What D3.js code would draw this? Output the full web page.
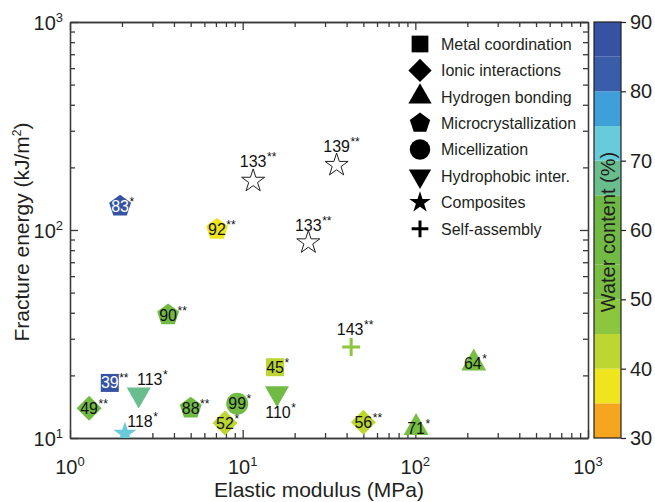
<!DOCTYPE html>
<html>
<head>
<meta charset="utf-8">
<script src="https://cdn.jsdelivr.net/npm/d3@7"></script>
<style>
    body { margin: 0; background: #fff; }
    text { font-family: "Liberation Sans", Arial, sans-serif; fill: #231f20; }
</style>
</head>
<body>
<svg id="chart" width="655" height="502"></svg>
<script>
// Values (one entry per hydrogel, in drawing order)
var refs     = ["83", "92", "133", "139", "133", "90", "39", "113", "118", "49", "88", "99", "52", "45", "110", "143", "64", "56", "71"];
var stars    = ["*", "**", "**", "**", "**", "**", "**", "*", "*", "**", "**", "*", "*", "*", "*", "**", "*", "**", "*"];
var kinds    = ["micro", "micro", "composite", "composite", "composite", "micro", "metal", "hydrophobic", "composite", "ionic", "micro", "micelle", "ionic", "metal", "hydrophobic", "self", "hbond", "ionic", "hbond"];
var modulus  = [1.95, 7.1, 11.5, 35, 24, 3.7, 1.7, 2.5, 2.08, 1.29, 5.0, 9.3, 7.9, 15.4, 15.8, 42.5, 218, 50, 101];   // MPa
var energy   = [130, 100.6, 172, 205, 87, 39, 18.4, 16.2, 10.5, 13.9, 13.9, 14.6, 11.8, 21.9, 16.4, 27.4, 22.9, 11.9, 11.2]; // kJ/m2
var water    = [87, 38, null, null, null, 55, 86, 68, 72, 58, 57, 56, 42, 42, 57, 47, 53, 43, 51];              // %

var legendKinds  = ["metal", "ionic", "hbond", "micro", "micelle", "hydrophobic", "composite", "self"];
var legendLabels = ["Metal coordination", "Ionic interactions", "Hydrogen bonding", "Microcrystallization",
                    "Micellization", "Hydrophobic inter.", "Composites", "Self-assembly"];

var xTicks     = [1, 10, 100, 1000];
var yTicks     = [10, 100, 1000];
var waterTicks = [30, 40, 50, 60, 70, 80, 90];
var waterBands = [30, 35, 40, 45, 50, 55, 60, 65, 70, 75, 80, 85, 90];
var bandColors = ["#f6a51e", "#efe51e", "#bdd631", "#8cc63f", "#78be43", "#71bb45", "#6db944",
                  "#68be8c", "#67cbd9", "#3f9fd8", "#3a5daa", "#3552a3"];

// Layout
var plot = {left: 70, right: 588, top: 22, bottom: 438};
var bar  = {left: 594, right: 621};
var ink  = "#231f20";

var svg = d3.select("#chart");

var x = d3.scaleLog().domain([1, 1000]).range([plot.left, plot.right]);
var y = d3.scaleLog().domain([10, 1000]).range([plot.bottom, plot.top]);
var color = d3.scaleThreshold().domain(waterBands.slice(1, -1)).range(bandColors);
var yc = d3.scaleLinear().domain([30, 90]).range([plot.bottom, plot.top]);

// minor ticks 2..9 in each decade
function minors(domain) {
    var out = [];
    for (var d = domain[0]; d < domain[1]; d *= 10) {
        for (var k = 2; k <= 9; k++) out.push(d * k);
    }
    return out;
}

// marker path for each mechanism, s = scale factor
function shapePath(kind, s) {
    var p = d3.path(), i, a, r;
    switch (kind) {
        case "metal":
            r = 9 * s;
            p.rect(-r, -r, 2 * r, 2 * r);
            break;
        case "ionic":
            r = 12.5 * s;
            p.moveTo(0, -r); p.lineTo(r, 0); p.lineTo(0, r); p.lineTo(-r, 0); p.closePath();
            break;
        case "hbond":
            p.moveTo(0, -14.7 * s); p.lineTo(12.5 * s, 7.3 * s); p.lineTo(-12.5 * s, 7.3 * s); p.closePath();
            break;
        case "hydrophobic":
            p.moveTo(0, 14 * s); p.lineTo(12 * s, -7 * s); p.lineTo(-12 * s, -7 * s); p.closePath();
            break;
        case "micro":
            r = 11.5 * s;
            for (i = 0; i < 5; i++) {
                a = -Math.PI / 2 + i * 2 * Math.PI / 5;
                if (i === 0) p.moveTo(r * Math.cos(a), r * Math.sin(a));
                else p.lineTo(r * Math.cos(a), r * Math.sin(a));
            }
            p.closePath();
            break;
        case "micelle":
            r = 11 * s;
            p.arc(0, 0, r, 0, 2 * Math.PI);
            break;
        case "composite":
            return d3.symbol().type(d3.symbolStar).size(165 * s * s)();
        case "self":
            r = 9 * s;
            p.moveTo(-r, 0); p.lineTo(r, 0); p.moveTo(0, -r); p.lineTo(0, r);
            break;
    }
    return p.toString();
}

// ---- colour bar ----
svg.append("g").selectAll("rect")
    .data(bandColors)
    .join("rect")
        .attr("x", bar.left)
        .attr("width", bar.right - bar.left)
        .attr("y", function(c, i) { return yc(waterBands[i + 1]); })
        .attr("height", function(c, i) { return yc(waterBands[i]) - yc(waterBands[i + 1]); })
        .attr("fill", function(c) { return c; });

svg.append("rect")
    .attr("x", bar.left).attr("y", plot.top)
    .attr("width", bar.right - bar.left).attr("height", plot.bottom - plot.top)
    .attr("fill", "none").attr("stroke", ink).attr("stroke-width", 1.2);

var cAxis = svg.append("g")
    .attr("transform", "translate(" + bar.right + ",0)")
    .call(d3.axisRight(yc).tickValues(waterTicks).tickSize(5).tickPadding(4));
cAxis.select(".domain").remove();
cAxis.selectAll("line").attr("stroke", ink).attr("stroke-width", 1.2);
cAxis.selectAll("text").attr("font-size", 20).attr("fill", ink)
    .attr("font-family", "'Liberation Sans', Arial, sans-serif");

svg.append("text")
    .attr("transform", "translate(615," + 232 + ") rotate(-90)")
    .attr("text-anchor", "middle")
    .attr("font-size", 20)
    .text("Water content (%)");

// ---- axes: inward ticks on all four sides ----
function frameAxis(axis, transform, size, values) {
    var g = svg.append("g")
        .attr("transform", transform)
        .call(axis.tickValues(values).tickSizeInner(-size).tickSizeOuter(0).tickFormat(""));
    g.selectAll("line, path").attr("stroke", "#3a3a3a").attr("stroke-width", 1.3);
    return g;
}

var xMinor = minors(x.domain()), yMinor = minors(y.domain());
frameAxis(d3.axisBottom(x), "translate(0," + plot.bottom + ")", 8, xTicks);
frameAxis(d3.axisBottom(x), "translate(0," + plot.bottom + ")", 5, xMinor);
frameAxis(d3.axisTop(x), "translate(0," + plot.top + ")", 8, xTicks);
frameAxis(d3.axisTop(x), "translate(0," + plot.top + ")", 5, xMinor);
frameAxis(d3.axisLeft(y), "translate(" + plot.left + ",0)", 8, yTicks);
frameAxis(d3.axisLeft(y), "translate(" + plot.left + ",0)", 5, yMinor);
frameAxis(d3.axisRight(y), "translate(" + plot.right + ",0)", 8, yTicks);
frameAxis(d3.axisRight(y), "translate(" + plot.right + ",0)", 5, yMinor);

// power-of-ten tick labels
function powerLabel(sel) {
    sel.append("tspan").text("10");
    sel.append("tspan")
        .attr("font-size", 13)
        .attr("dy", -8)
        .text(function(d) { return Math.round(Math.log10(d)); });
}

svg.append("g").selectAll("text")
    .data(xTicks)
    .join("text")
        .attr("x", function(d) { return x(d); })
        .attr("y", 474)
        .attr("text-anchor", "middle")
        .attr("font-size", 20)
        .call(powerLabel);

svg.append("g").selectAll("text")
    .data(yTicks)
    .join("text")
        .attr("x", 63)
        .attr("y", function(d) { return y(d) + 8; })
        .attr("text-anchor", "end")
        .attr("font-size", 20)
        .call(powerLabel);

svg.append("text")
    .attr("x", 319).attr("y", 497)
    .attr("text-anchor", "middle")
    .attr("font-size", 21)
    .text("Elastic modulus (MPa)");

var yTitle = svg.append("text")
    .attr("transform", "translate(29,232) rotate(-90)")
    .attr("text-anchor", "middle")
    .attr("font-size", 21);
yTitle.append("tspan").text("Fracture energy (kJ/m");
yTitle.append("tspan").attr("font-size", 12).attr("dy", -8).text("2");
yTitle.append("tspan").attr("dy", 8).text(")");

// ---- data markers ----
svg.append("clipPath").attr("id", "plotClip")
    .append("rect")
        .attr("x", plot.left).attr("y", plot.top)
        .attr("width", plot.right - plot.left).attr("height", plot.bottom - plot.top);

var idx = d3.range(refs.length);

svg.append("g")
    .attr("clip-path", "url(#plotClip)")
    .selectAll("path")
    .data(idx)
    .join("path")
        .attr("transform", function(i) { return "translate(" + x(modulus[i]) + "," + y(energy[i]) + ")"; })
        .attr("d", function(i) { return shapePath(kinds[i], 1); })
        .attr("fill", function(i) {
            if (kinds[i] === "self") return "none";
            return water[i] == null ? "#fff" : color(water[i]);
        })
        .attr("stroke", function(i) {
            if (kinds[i] === "self") return color(water[i]);
            return water[i] == null ? ink : "none";
        })
        .attr("stroke-width", function(i) { return kinds[i] === "self" ? 3 : 1; });

// where each reference number sits relative to its marker (baseline offsets)
var labelSpot = {
    2: {dx: 0, dy: -14}, 3: {dx: 0, dy: -13}, 4: {dx: 0, dy: -12},
    7: {dx: 11, dy: -9}, 8: {dx: 15, dy: -7}, 14: {dx: 1, dy: 25},
    15: {dx: -1, dy: -12}, 16: {dx: -1, dy: 6}, 18: {dx: 0, dy: 6}
};

var labels = svg.append("g").selectAll("g")
    .data(idx)
    .join("g")
        .attr("transform", function(i) {
            var s = labelSpot[i] || {dx: 0, dy: 5.5};
            return "translate(" + (x(modulus[i]) + s.dx) + "," + (y(energy[i]) + s.dy) + ")";
        });

labels.append("text")
    .attr("class", "num")
    .attr("text-anchor", "middle")
    .attr("font-size", 16)
    .style("fill", function(i) { return water[i] >= 80 ? "#fff" : "#111"; })
    .text(function(i) { return refs[i]; });

labels.each(function(i) {
    var g = d3.select(this);
    var w = g.select(".num").node().getComputedTextLength();
    g.append("text")
        .attr("x", w / 2 + 0.5)
        .attr("y", -6)
        .attr("font-size", 12)
        .style("fill", "#111")
        .text(stars[i]);
});

// ---- legend ----
var legend = svg.append("g").selectAll("g")
    .data(legendKinds)
    .join("g")
        .attr("transform", function(k, i) { return "translate(420," + (44 + i * 26.4) + ")"; });

legend.append("path")
    .attr("d", function(k) { return shapePath(k, 0.93); })
    .attr("fill", function(k) { return k === "self" ? "none" : "#000"; })
    .attr("stroke", function(k) { return k === "self" ? "#000" : "none"; })
    .attr("stroke-width", 3);

legend.append("text")
    .attr("x", 21)
    .attr("dy", "0.36em")
    .attr("font-size", 16)
    .text(function(k, i) { return legendLabels[i]; });
</script>
</body>
</html>
